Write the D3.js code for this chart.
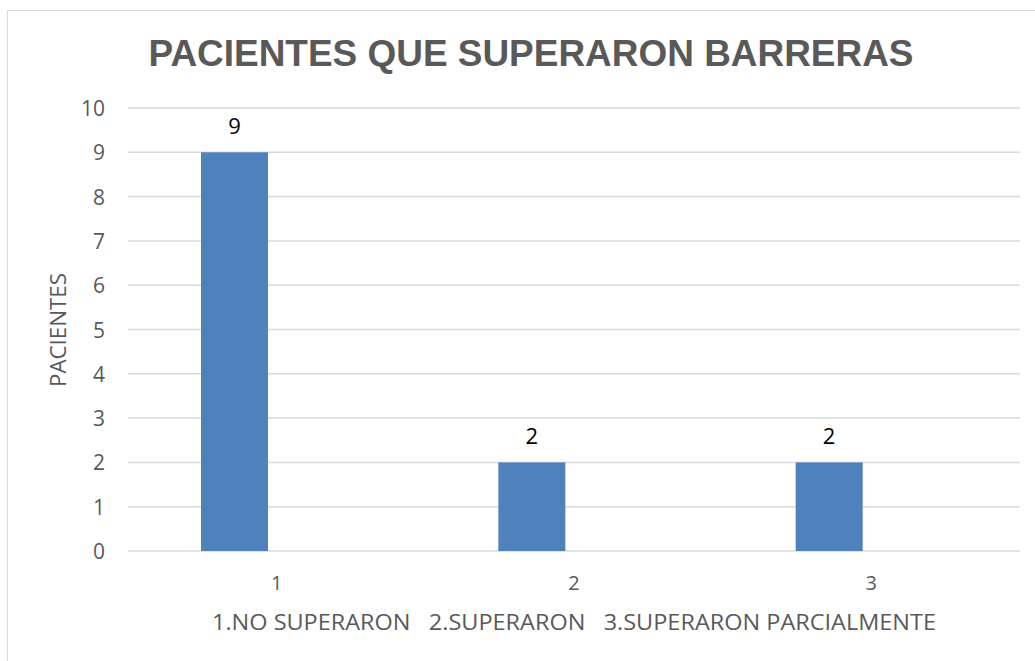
<!DOCTYPE html>
<html>
<head>
<meta charset="utf-8">
<script src="https://cdn.jsdelivr.net/npm/d3@7"></script>
<style>
  body { margin: 0; background: #fff; }
  svg { display: block; }
</style>
</head>
<body>
<div id="chart"></div>
<script>
// datos del grafico
var categorias = ["1", "2", "3"];
var pacientes = [9, 2, 2];
var yTicks = [0, 1, 2, 3, 4, 5, 6, 7, 8, 9, 10];
var titulo = "PACIENTES QUE SUPERARON BARRERAS";
var tituloEjeY = "PACIENTES";
var tituloEjeX = "1.NO SUPERARON   2.SUPERARON   3.SUPERARON PARCIALMENTE";

var width = 1035, height = 661;
var margin = {left: 128, right: 15, top: 108, bottom: 110};
var gris = "#595959";
var fuente = "'Open Sans', 'Liberation Sans', sans-serif";

var svg = d3.select("#chart")
    .append("svg")
    .attr("width", width)
    .attr("height", height);

// marco
svg.append("rect")
    .attr("x", 7.5).attr("y", 10.5)
    .attr("width", 1040).attr("height", 670)
    .attr("fill", "none")
    .attr("stroke", "#d9d9d9")
    .attr("stroke-width", 1);

var x = d3.scaleBand()
    .domain(categorias)
    .range([margin.left, 1020]);

var y = d3.scaleLinear()
    .domain([0, 10])
    .range([551, margin.top]);

// lineas de cuadricula
svg.append("g")
    .selectAll("line")
    .data(yTicks)
    .enter()
    .append("line")
    .attr("x1", margin.left)
    .attr("x2", 1020)
    .attr("y1", function(d) { return y(d); })
    .attr("y2", function(d) { return y(d); })
    .attr("stroke", "#d9d9d9")
    .attr("stroke-width", 1.5);

// etiquetas eje y
svg.append("g")
    .selectAll("text")
    .data(yTicks)
    .enter()
    .append("text")
    .attr("x", 105)
    .attr("y", function(d) { return y(d) + 8; })
    .attr("text-anchor", "end")
    .attr("font-family", fuente)
    .attr("font-size", 21)
    .attr("fill", gris)
    .text(function(d) { return d; });

// barras (desplazadas a la izquierda del centro de la categoria)
var bw = x.bandwidth();
svg.append("g")
    .selectAll("rect")
    .data(pacientes)
    .enter()
    .append("rect")
    .attr("x", function(d, i) { return x(categorias[i]) + bw * 0.2455; })
    .attr("width", bw * 0.2254)
    .attr("y", function(d) { return y(d); })
    .attr("height", function(d) { return y(0) - y(d); })
    .attr("fill", "#4f81bd");

// etiquetas de datos
svg.append("g")
    .selectAll("text")
    .data(pacientes)
    .enter()
    .append("text")
    .attr("x", function(d, i) { return x(categorias[i]) + bw * (0.2455 + 0.1127); })
    .attr("y", function(d) { return y(d) - 18; })
    .attr("text-anchor", "middle")
    .attr("font-family", fuente)
    .attr("font-size", 22)
    .attr("fill", "#000")
    .text(function(d) { return d; });

// etiquetas eje x
svg.append("g")
    .selectAll("text")
    .data(categorias)
    .enter()
    .append("text")
    .attr("x", function(d) { return x(d) + bw / 2; })
    .attr("y", 590)
    .attr("text-anchor", "middle")
    .attr("font-family", fuente)
    .attr("font-size", 20)
    .attr("fill", gris)
    .text(function(d) { return d; });

// titulo eje x
svg.append("text")
    .attr("x", 574)
    .attr("y", 630)
    .attr("text-anchor", "middle")
    .attr("font-family", fuente)
    .attr("font-size", 22)
    .attr("fill", gris)
    .attr("xml:space", "preserve")
    .attr("textLength", 724)
    .attr("lengthAdjust", "spacingAndGlyphs")
    .text(tituloEjeX);

// titulo eje y
svg.append("text")
    .attr("transform", "translate(66,330) rotate(-90)")
    .attr("text-anchor", "middle")
    .attr("font-family", fuente)
    .attr("font-size", 22)
    .attr("fill", gris)
    .attr("textLength", 114)
    .attr("lengthAdjust", "spacingAndGlyphs")
    .text(tituloEjeY);

// titulo
svg.append("text")
    .attr("x", 531)
    .attr("y", 66)
    .attr("text-anchor", "middle")
    .attr("font-family", "'Liberation Sans', Arial, sans-serif")
    .attr("font-weight", "bold")
    .attr("font-size", 37)
    .attr("fill", gris)
    .attr("textLength", 765)
    .attr("lengthAdjust", "spacingAndGlyphs")
    .text(titulo);
</script>
</body>
</html>
